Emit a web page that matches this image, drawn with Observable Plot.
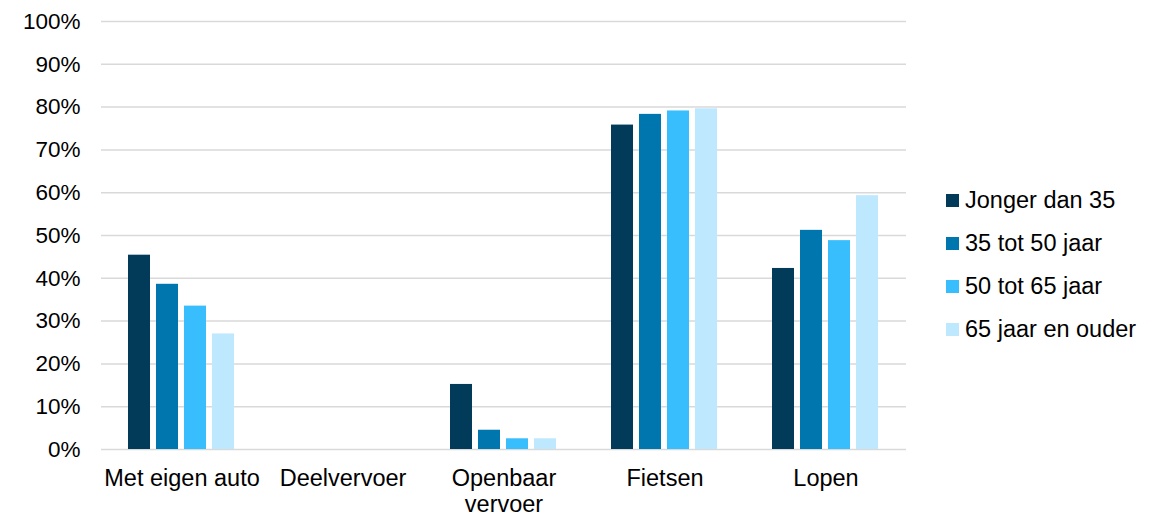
<!DOCTYPE html>
<html>
<head>
<meta charset="utf-8">
<script src="https://cdn.jsdelivr.net/npm/d3@7"></script>
<script src="https://cdn.jsdelivr.net/npm/@observablehq/plot@0.6"></script>
<style>
  html, body { margin: 0; padding: 0; background: #fff; }
  #wrap { position: relative; width: 1165px; height: 517px; font-family: "Liberation Sans", Arial, sans-serif; }
  #legend { position: absolute; left: 946px; top: 179px; font-size: 23.5px; color: #000; }
  .li { display: flex; align-items: center; height: 43px; }
  .sw { width: 13px; height: 13px; margin-right: 6px; }
</style>
</head>
<body>
<div id="wrap"><div id="chart"></div><div id="legend"></div></div>
<script>
const categories = ["Met eigen auto", "Deelvervoer", "Openbaar vervoer", "Fietsen", "Lopen"];
const series = ["Jonger dan 35", "35 tot 50 jaar", "50 tot 65 jaar", "65 jaar en ouder"];
const colors = ["#023b59", "#0076ae", "#38bdfd", "#bde8fe"];
const jongerDan35 = [45.4, 0, 15.2, 75.8, 42.3];
const tot50 = [38.6, 0, 4.5, 78.3, 51.2];
const tot65 = [33.5, 0, 2.5, 79.1, 48.8];
const ouder65 = [27.0, 0, 2.5, 79.6, 59.3];
const yTicks = [0, 10, 20, 30, 40, 50, 60, 70, 80, 90, 100];

const valuesBySeries = [jongerDan35, tot50, tot65, ouder65];
const data = [];
categories.forEach((c, i) => {
  series.forEach((s, j) => data.push({category: c, series: s, value: valuesBySeries[j][i]}));
});

const chart = Plot.plot({
  width: 1165,
  height: 517,
  marginLeft: 100,
  marginRight: 259,
  marginTop: 21,
  marginBottom: 68,
  style: {fontFamily: "Liberation Sans, Arial, sans-serif", fontSize: "22px", color: "#000", background: "#fff"},
  fx: {domain: categories, padding: 0, label: null},
  x: {domain: series, paddingInner: 0.2, paddingOuter: 0.88, axis: null},
  y: {domain: [0, 100], label: null},
  color: {domain: series, range: colors},
  marks: [
    Plot.ruleY(yTicks, {stroke: "#d9d9d9", strokeWidth: 1.5}),
    Plot.barY(data, {fx: "category", x: "series", y: "value", fill: "series", inset: 0}),
    Plot.axisY(yTicks, {tickSize: 0, tickPadding: 21, tickFormat: d => d + "%", fontSize: 22.5, label: null, facetAnchor: "left"}),
    Plot.axisFx({anchor: "bottom", tickSize: 0, tickPadding: 18, fontSize: 23.5, label: null, lineHeight: 1.1,
      tickFormat: d => d === "Openbaar vervoer" ? "Openbaar\nvervoer" : d})
  ]
});
document.getElementById("chart").appendChild(chart);

const legend = document.getElementById("legend");
series.forEach((s, i) => {
  const row = document.createElement("div");
  row.className = "li";
  const sw = document.createElement("div");
  sw.className = "sw";
  sw.style.background = colors[i];
  const t = document.createElement("span");
  t.textContent = s;
  row.appendChild(sw); row.appendChild(t);
  legend.appendChild(row);
});
</script>
</body>
</html>
